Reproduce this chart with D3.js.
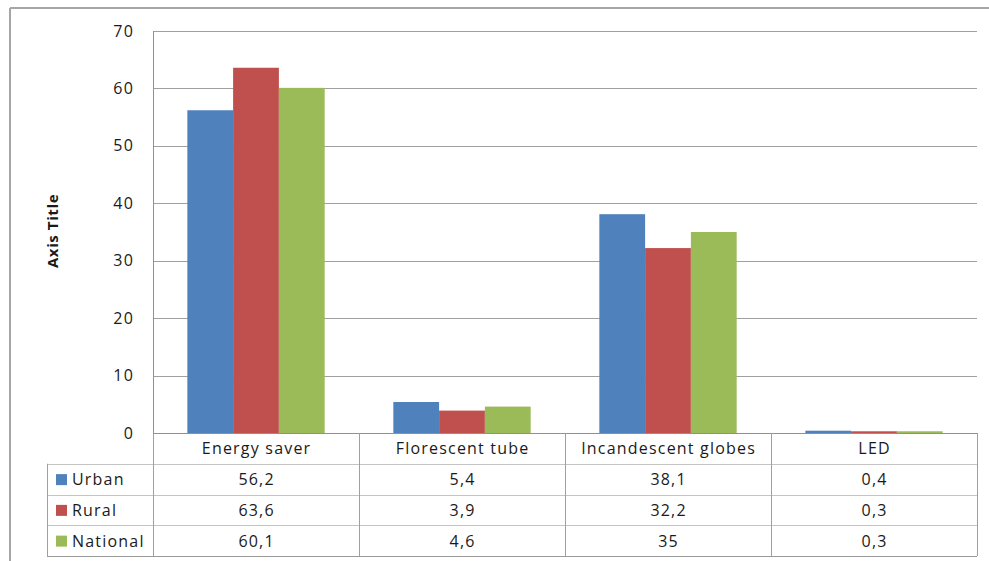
<!DOCTYPE html>
<html>
<head>
<meta charset="utf-8">
<script src="https://cdn.jsdelivr.net/npm/d3@7"></script>
<style>
  html, body { margin: 0; padding: 0; background: #fff; }
  svg { display: block; }
  text { font-family: "Open Sans", Lato, "Liberation Sans", sans-serif; fill: #1a1a1a; letter-spacing: 1.2px; }
</style>
</head>
<body>
<svg id="chart" width="989" height="561"></svg>
<script>
// Lighting types and share of households by area
const categories = ["Energy saver", "Florescent tube", "Incandescent globes", "LED"];
const seriesNames = ["Urban", "Rural", "National"];
const urban = [56.2, 5.4, 38.1, 0.4];
const rural = [63.6, 3.9, 32.2, 0.3];
const national = [60.1, 4.6, 35, 0.3];
const yTicks = [0, 10, 20, 30, 40, 50, 60, 70];
const colors = ["#4F81BD", "#C0504D", "#9BBB59"];
const axisTitle = "Axis Title";

const seriesValues = [urban, rural, national];

const svg = d3.select("#chart");
const W = 989, H = 561;
const FONT = "'Open Sans', Lato, sans-serif";

// Plot area geometry
const plot = { left: 153, right: 977, top: 31, bottom: 433 };
const table = { left: 47, rowH: 30.75 };

const x = d3.scaleBand().domain(categories).range([plot.left, plot.right]).paddingInner(0).paddingOuter(0);
const y = d3.scaleLinear().domain([0, 70]).range([plot.bottom, plot.top]);
const barBand = d3.scaleBand().domain(seriesNames)
  .range([0, x.bandwidth()]).paddingInner(0).paddingOuter(0.75);

// Comma decimal separator for the value table
const locale = d3.formatLocale({ decimal: ",", thousands: ".", grouping: [3], currency: ["", ""] });
const fmt = v => locale.format(",")(v);

// Chart frame
svg.append("line").attr("x1", 10).attr("x2", W).attr("y1", 8).attr("y2", 8)
  .attr("stroke", "#a6a6a6").attr("stroke-width", 2);
svg.append("line").attr("x1", 10).attr("x2", 10).attr("y1", 8).attr("y2", H)
  .attr("stroke", "#a6a6a6").attr("stroke-width", 2);

// Gridlines
svg.append("g").selectAll("line").data(yTicks.filter(d => d > 0)).join("line")
  .attr("x1", plot.left).attr("x2", plot.right)
  .attr("y1", d => Math.round(y(d)) + 0.5).attr("y2", d => Math.round(y(d)) + 0.5)
  .attr("stroke", "#a0a0a0").attr("stroke-width", 1);

// Y axis
const yAxis = d3.axisLeft(y).tickValues(yTicks).tickSize(0).tickPadding(19);
const gy = svg.append("g").attr("transform", `translate(${plot.left},0)`).call(yAxis);
gy.select(".domain").remove();
gy.selectAll("text").attr("font-size", 16).attr("font-family", FONT).attr("fill", "#1a1a1a");
svg.append("line").attr("x1", plot.left + 0.5).attr("x2", plot.left + 0.5)
  .attr("y1", plot.top).attr("y2", plot.bottom).attr("stroke", "#909090");

// Axis title
svg.append("text")
  .attr("transform", `translate(58,231) rotate(-90)`)
  .attr("text-anchor", "middle")
  .attr("font-size", 15).attr("font-weight", "bold")
  .style("letter-spacing", "0.6px")
  .text(axisTitle);

// Bars
const groups = svg.append("g").selectAll("g").data(categories).join("g")
  .attr("transform", d => `translate(${x(d)},0)`);
groups.selectAll("rect")
  .data((c, i) => seriesNames.map((s, j) => ({ s, v: seriesValues[j][i], j })))
  .join("rect")
  .attr("x", d => barBand(d.s))
  .attr("width", barBand.bandwidth())
  .attr("y", d => y(d.v))
  .attr("height", d => y(0) - y(d.v))
  .attr("fill", d => colors[d.j]);

// Data table
const rowsTop = plot.bottom;
const rowY = i => rowsTop + table.rowH * i; // row 0 = header
const lineG = svg.append("g");
// horizontal lines
[1, 2, 3].forEach(i => {
  lineG.append("line").attr("x1", table.left).attr("x2", plot.right)
    .attr("y1", Math.round(rowY(i)) + 0.5).attr("y2", Math.round(rowY(i)) + 0.5)
    .attr("stroke", "#c4c4c4");
});
lineG.append("line").attr("x1", table.left).attr("x2", plot.right)
  .attr("y1", Math.round(rowY(4)) + 0.5).attr("y2", Math.round(rowY(4)) + 0.5)
  .attr("stroke", "#999");
// x axis line
lineG.append("line").attr("x1", plot.left).attr("x2", plot.right)
  .attr("y1", plot.bottom + 0.5).attr("y2", plot.bottom + 0.5).attr("stroke", "#909090");
// vertical lines
const vx = [plot.left, ...categories.map(c => x(c) + x.bandwidth())];
vx.forEach(v => {
  lineG.append("line").attr("x1", Math.round(v) + 0.5).attr("x2", Math.round(v) + 0.5)
    .attr("y1", plot.bottom).attr("y2", rowY(4)).attr("stroke", "#a0a0a0");
});
lineG.append("line").attr("x1", table.left + 0.5).attr("x2", table.left + 0.5)
  .attr("y1", rowY(1)).attr("y2", rowY(4)).attr("stroke", "#a0a0a0");

// header row (category labels)
svg.append("g").selectAll("text").data(categories).join("text")
  .attr("x", d => x(d) + x.bandwidth() / 2 + 0.6)
  .attr("y", rowY(0) + table.rowH / 2 + 6)
  .attr("text-anchor", "middle").attr("font-size", 16)
  .text(d => d);

// series rows
seriesNames.forEach((s, j) => {
  const cy = rowY(j + 1) + table.rowH / 2;
  svg.append("rect").attr("x", 56).attr("y", cy - 5).attr("width", 11).attr("height", 11)
    .attr("fill", colors[j]);
  svg.append("text").attr("x", 72).attr("y", cy + 6).attr("font-size", 16).text(s);
  svg.append("g").selectAll("text").data(seriesValues[j]).join("text")
    .attr("x", (d, i) => x(categories[i]) + x.bandwidth() / 2 + 0.6)
    .attr("y", cy + 6)
    .attr("text-anchor", "middle").attr("font-size", 16)
    .text(d => fmt(d));
});
</script>
</body>
</html>
